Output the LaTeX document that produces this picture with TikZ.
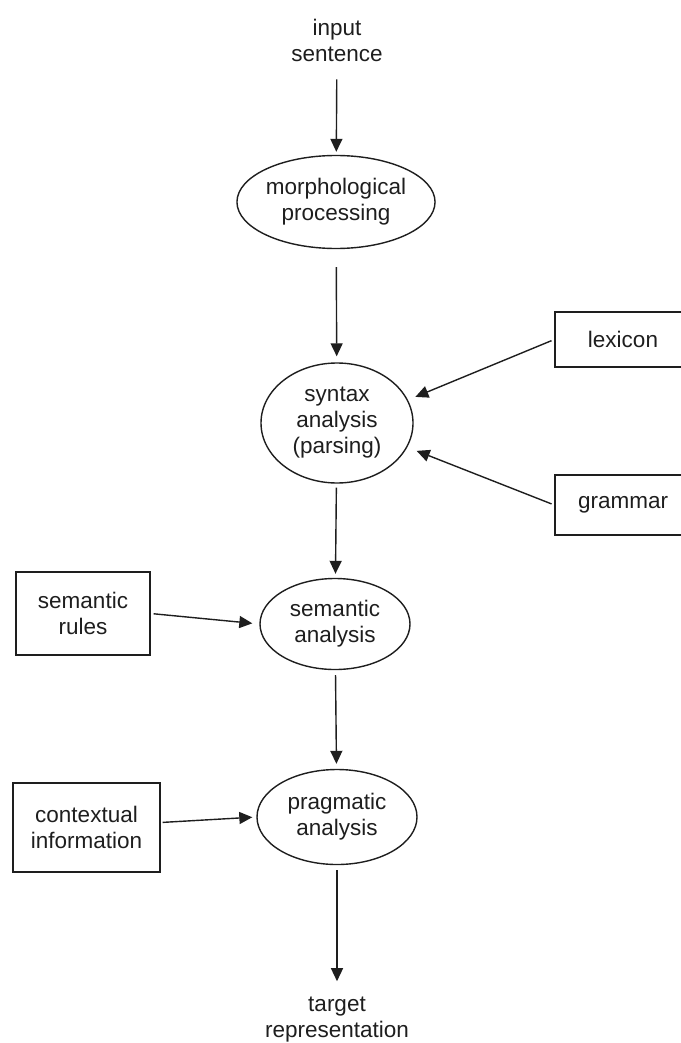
\documentclass[tikz,border=0pt]{standalone}
\usepackage{fontspec}
\setmainfont{Liberation Sans}
\usetikzlibrary{shapes.geometric,arrows.meta}
\definecolor{ink}{HTML}{1E1E1E}
\tikzset{
  lbl/.style={align=center,inner sep=0pt,text=ink,font=\fontsize{22.5}{26}\selectfont},
  ell/.style={lbl,draw=ink,line width=1.4pt,ellipse},
  boxn/.style={lbl,draw=ink,line width=1.4pt,rectangle},
  arr/.style={draw=ink,line width=1.4pt,-{Triangle[length=13pt,width=12pt]}}
}
\begin{document}
\begin{tikzpicture}[x=1pt,y=-1pt]
\useasboundingbox (0,0) rectangle (680,1043);
\node[lbl] (in) at (337,40) {input\\sentence};
\node[ell,minimum width=162pt,minimum height=93pt] (morph) at (336,202) {morphological\\processing};
\node[ell,minimum width=152pt,minimum height=120pt] (syn) at (337,423) {syntax\\analysis\\(parsing)};
\node[ell,minimum width=150pt,minimum height=91pt] (sem) at (335,624) {semantic\\analysis};
\node[ell,minimum width=160pt,minimum height=95pt] (prag) at (337,817) {pragmatic\\analysis};
\node[lbl] (tgt) at (337,1020) {target\\representation};
\node[boxn,minimum width=136pt,minimum height=55pt] (lex) at (623,339.5) {lexicon};
\node[boxn,minimum width=136pt,minimum height=60pt] (gram) at (623,505) {grammar};
\node[boxn,minimum width=134pt,minimum height=83pt] (rules) at (83,613.5) {semantic\\rules};
\node[boxn,minimum width=147pt,minimum height=89pt] (ctx) at (86.5,827.5) {contextual\\information};
\draw[arr,shorten <=18pt,shorten >=3pt] (in) -- (morph);
\draw[arr,shorten <=18pt,shorten >=6pt] (morph) -- (syn);
\draw[arr,shorten <=4pt,shorten >=4pt] (syn) -- (sem);
\draw[arr,shorten <=5pt,shorten >=5pt] (sem) -- (prag);
\draw[arr,shorten <=5pt,shorten >=16pt] (prag) -- (tgt);
\draw[arr,shorten <=3pt,shorten >=8pt] (lex.west) -- (syn.18);
\draw[arr,shorten <=3pt,shorten >=10pt] (gram.west) -- (syn.-19);
\draw[arr,shorten <=3pt,shorten >=7pt] (rules.east) -- (sem.west);
\draw[arr,shorten <=2pt,shorten >=4pt] ([yshift=5pt]ctx.east) -- (prag.west);
\end{tikzpicture}
\end{document}
